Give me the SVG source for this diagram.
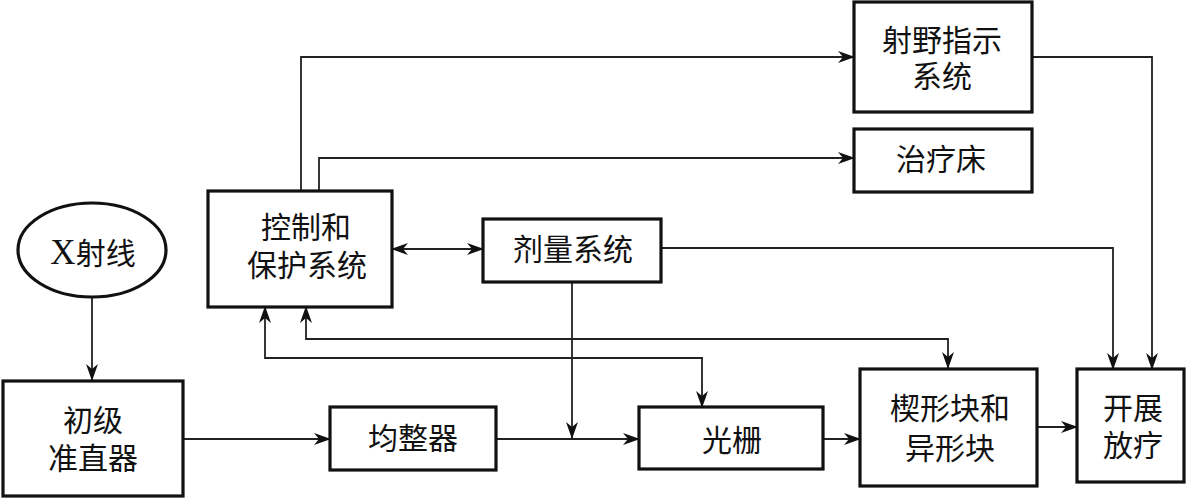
<svg xmlns="http://www.w3.org/2000/svg" width="1188" height="501" viewBox="0 0 1188 501">
<defs>
<marker id="arr" markerUnits="userSpaceOnUse" markerWidth="18" markerHeight="14" refX="16" refY="7" orient="auto-start-reverse" viewBox="0 0 18 14">
<path d="M0,1 L17,7 L0,13 L5,7 Z" fill="#111"/>
</marker>
<style>
.box{fill:#fff;stroke:#111;stroke-width:3.2}
.ln{fill:none;stroke:#222;stroke-width:1.8}
.t{font-family:"Liberation Serif","Noto Sans CJK SC",serif;font-size:30px;fill:#111;text-anchor:middle}
</style>
</defs>
<rect width="1188" height="501" fill="#fff"/>
<g id="connectors">
<path class="ln" d="M92,297 V380" marker-end="url(#arr)"/>
<path class="ln" d="M183,439 H330" marker-end="url(#arr)"/>
<path class="ln" d="M496,439 H639" marker-end="url(#arr)"/>
<path class="ln" d="M823,439 H860" marker-end="url(#arr)"/>
<path class="ln" d="M1037,427 H1077" marker-end="url(#arr)"/>
<path class="ln" d="M301,191 V57 H854" marker-end="url(#arr)"/>
<path class="ln" d="M319,191 V158 H854" marker-end="url(#arr)"/>
<path class="ln" d="M392,249 H483" marker-start="url(#arr)" marker-end="url(#arr)"/>
<path class="ln" d="M572,282 V438" marker-end="url(#arr)"/>
<path class="ln" d="M1032,57 H1152 V369" marker-end="url(#arr)"/>
<path class="ln" d="M661,248 H1113 V369" marker-end="url(#arr)"/>
<path class="ln" d="M265,307 V358 H702 V407" marker-start="url(#arr)" marker-end="url(#arr)"/>
<path class="ln" d="M306,307 V339 H948 V368" marker-start="url(#arr)" marker-end="url(#arr)"/>
</g>
<g id="xray">
<ellipse cx="92" cy="250" rx="74" ry="47" fill="#fff" stroke="#111" stroke-width="3.2"/>
<text class="t" x="93" y="264"><tspan font-size="35">X</tspan>射线</text>
</g>
<g id="primary-collimator">
<rect class="box" x="3" y="381" width="180" height="115"/>
<text class="t" x="93" y="431">初级</text>
<text class="t" x="93" y="469">准直器</text>
</g>
<g id="control">
<rect class="box" x="208" y="191" width="184" height="116"/>
<text class="t" x="306" y="238">控制和</text>
<text class="t" x="307" y="276">保护系统</text>
</g>
<g id="dose">
<rect class="box" x="483" y="219" width="178" height="63"/>
<text class="t" x="573" y="260">剂量系统</text>
</g>
<g id="flattener">
<rect class="box" x="330" y="407" width="166" height="63"/>
<text class="t" x="413" y="449">均整器</text>
</g>
<g id="grating">
<rect class="box" x="639" y="407" width="184" height="62"/>
<text class="t" x="732" y="451">光栅</text>
</g>
<g id="wedge">
<rect class="box" x="860" y="369" width="177" height="117"/>
<text class="t" x="950" y="419">楔形块和</text>
<text class="t" x="950" y="459">异形块</text>
</g>
<g id="treatment">
<rect class="box" x="1077" y="369" width="107" height="113"/>
<text class="t" x="1133" y="419">开展</text>
<text class="t" x="1133" y="456">放疗</text>
</g>
<g id="field-indicator">
<rect class="box" x="854" y="2" width="178" height="110"/>
<text class="t" x="942" y="51">射野指示</text>
<text class="t" x="942" y="87">系统</text>
</g>
<g id="couch">
<rect class="box" x="854" y="129" width="178" height="63"/>
<text class="t" x="941" y="170">治疗床</text>
</g>
</svg>
